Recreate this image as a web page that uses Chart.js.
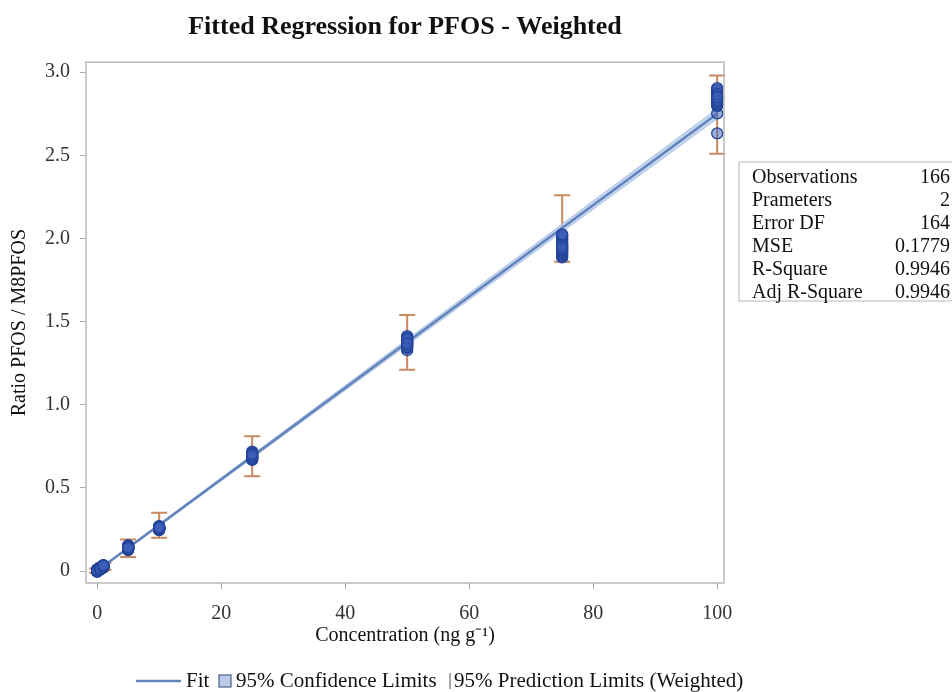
<!DOCTYPE html>
<html>
<head>
<meta charset="utf-8">
<script src="https://cdn.jsdelivr.net/npm/chart.js@4.4.1/dist/chart.umd.min.js"></script>
<style>
  html, body { margin: 0; padding: 0; background: #fff; }
  #wrap { width: 952px; height: 692px; }
</style>
</head>
<body>
<div id="wrap"><canvas id="myChart" width="952" height="692"></canvas></div>
<script>
// concentration levels (ng/g)
var levels = [0, 0.5, 1, 5, 10, 25, 50, 75, 100];

// observed ratio PFOS / M8PFOS at each level
var obs0 = [0.000, 0.004, -0.003, 0.008, 0.002, 0.006, -0.001, 0.010, 0.003, 0.005, 0.001, 0.007, -0.004, 0.009, 0.002, 0.006, 0.000, 0.004];
var obs05 = [0.012, 0.016, 0.010, 0.019, 0.014, 0.018, 0.011, 0.015, 0.020, 0.013, 0.017, 0.009, 0.016, 0.012, 0.021, 0.014, 0.018, 0.011];
var obs1 = [0.024, 0.028, 0.022, 0.031, 0.026, 0.030, 0.025, 0.033, 0.027, 0.021, 0.029, 0.035, 0.023, 0.032, 0.026, 0.030, 0.028, 0.034];
var obs5 = [0.128, 0.135, 0.141, 0.146, 0.150, 0.138, 0.132, 0.144, 0.152, 0.126, 0.139, 0.148, 0.155, 0.136, 0.143, 0.131, 0.147, 0.140];
var obs10 = [0.248, 0.255, 0.262, 0.251, 0.268, 0.258, 0.246, 0.264, 0.253, 0.260, 0.270, 0.257, 0.250, 0.266, 0.259, 0.254, 0.263, 0.261];
var obs25 = [0.668, 0.675, 0.683, 0.690, 0.697, 0.704, 0.712, 0.718, 0.686, 0.679, 0.700, 0.693, 0.708, 0.672, 0.681, 0.695, 0.688, 0.702];
var obs50 = [1.328, 1.340, 1.352, 1.361, 1.370, 1.378, 1.386, 1.395, 1.404, 1.413, 1.365, 1.382, 1.357, 1.374, 1.390, 1.346, 1.399, 1.368];
var obs75 = [1.886, 1.895, 1.903, 1.912, 1.920, 1.928, 1.937, 1.945, 1.953, 1.962, 1.970, 1.978, 1.987, 1.995, 2.003, 2.012, 2.020, 2.025, 1.958, 1.941];
var obs100 = [2.632, 2.752, 2.796, 2.805, 2.813, 2.822, 2.830, 2.838, 2.846, 2.855, 2.863, 2.871, 2.880, 2.888, 2.896, 2.904, 2.842, 2.826, 2.868, 2.851];
var observations = [obs0, obs05, obs1, obs5, obs10, obs25, obs50, obs75, obs100];

// 95% prediction limits (weighted) at each level
var predLower = [-0.010, 0.000, 0.006, 0.085, 0.200, 0.570, 1.210, 1.860, 2.510];
var predUpper = [0.015, 0.030, 0.048, 0.190, 0.350, 0.810, 1.540, 2.260, 2.980];

// fitted line and 95% confidence limits
var fitX = [0, 100];
var fitY = [0.002, 2.750];
var ciLower = [-0.002, 2.720];
var ciUpper = [0.006, 2.780];

var xTicks = [0, 20, 40, 60, 80, 100];
var yTicks = [0, 0.5, 1.0, 1.5, 2.0, 2.5, 3.0];

// fit statistics table
var statNames = ['Observations', 'Prameters', 'Error DF', 'MSE', 'R-Square', 'Adj R-Square'];
var statValues = ['166', '2', '164', '0.1779', '0.9946', '0.9946'];

var serif = '"Liberation Serif", "Times New Roman", serif';

// build point lists from the arrays
var points = [];
levels.forEach(function (lv, i) {
  observations[i].forEach(function (v) { points.push({ x: lv, y: v }); });
});
function xy(xs, ys) { return xs.map(function (v, i) { return { x: v, y: ys[i] }; }); }

// prediction limit error bars, drawn under the datasets
var errorBars = {
  id: 'errorBars',
  beforeDatasetsDraw: function (chart) {
    var c = chart.ctx, sx = chart.scales.x, sy = chart.scales.y;
    c.save();
    c.strokeStyle = '#c98a5e';
    c.lineWidth = 2;
    levels.forEach(function (lv, i) {
      var px = sx.getPixelForValue(lv);
      var top = sy.getPixelForValue(predUpper[i]);
      var bot = sy.getPixelForValue(predLower[i]);
      c.beginPath();
      c.moveTo(px, top); c.lineTo(px, bot);
      c.moveTo(px - 8, top); c.lineTo(px + 8, top);
      c.moveTo(px - 8, bot); c.lineTo(px + 8, bot);
      c.stroke();
    });
    c.restore();
  }
};

// frame, stats box and legend
var extras = {
  id: 'extras',
  afterDraw: function (chart) {
    var c = chart.ctx, a = chart.chartArea;
    c.save();
    c.strokeStyle = '#b9b9b9';
    c.lineWidth = 1.5;
    c.strokeRect(a.left, a.top, a.right - a.left, a.bottom - a.top);

    // stats box
    c.strokeStyle = '#c4c4c4';
    c.lineWidth = 1.2;
    c.strokeRect(739, 162, 230, 139);
    c.font = '20px ' + serif;
    c.fillStyle = '#111';
    c.textBaseline = 'middle';
    statNames.forEach(function (n, i) {
      var yy = 178 + i * 23;
      c.textAlign = 'left';
      c.fillText(n, 752, yy);
      c.textAlign = 'right';
      c.fillText(statValues[i], 950, yy);
    });

    // legend
    var ly = 681;
    c.font = '21px ' + serif;
    c.strokeStyle = '#6383bb';
    c.lineWidth = 2.5;
    c.beginPath(); c.moveTo(136, ly); c.lineTo(181, ly); c.stroke();
    c.textAlign = 'left';
    c.fillStyle = '#111';
    c.fillText('Fit', 186, ly);
    c.fillStyle = '#b9cbe6';
    c.fillRect(219, ly - 6, 12, 12);
    c.strokeStyle = '#4d5f86';
    c.lineWidth = 1.2;
    c.strokeRect(219, ly - 6, 12, 12);
    c.fillStyle = '#111';
    c.fillText('95% Confidence Limits', 236, ly);
    c.strokeStyle = '#555';
    c.lineWidth = 1;
    c.beginPath(); c.moveTo(450, ly - 8); c.lineTo(450, ly + 8); c.stroke();
    c.fillText('95% Prediction Limits (Weighted)', 454, ly);
    c.restore();
  }
};

new Chart(document.getElementById('myChart'), {
  type: 'scatter',
  data: {
    datasets: [
      {
        label: 'Observed',
        data: points,
        pointRadius: 5.5,
        pointBackgroundColor: 'rgba(60,95,185,0.5)',
        pointBorderColor: '#24449a',
        pointBorderWidth: 1.3,
        order: 1
      },
      {
        type: 'line',
        label: 'Fit',
        data: xy(fitX, fitY),
        borderColor: '#6383bb',
        borderWidth: 2.5,
        pointRadius: 0,
        order: 2
      },
      {
        type: 'line',
        label: '95% Confidence Limits',
        data: xy(fitX, ciUpper),
        borderColor: 'rgba(160,185,225,0.9)',
        borderWidth: 1,
        backgroundColor: 'rgba(178,200,233,0.75)',
        fill: '+1',
        pointRadius: 0,
        order: 3
      },
      {
        type: 'line',
        label: 'CI lower',
        data: xy(fitX, ciLower),
        borderColor: 'rgba(160,185,225,0.9)',
        borderWidth: 1,
        pointRadius: 0,
        order: 4
      }
    ]
  },
  options: {
    responsive: false,
    animation: false,
    layout: { padding: { left: 4, right: 228, top: 0, bottom: 33 } },
    plugins: {
      legend: { display: false },
      tooltip: { enabled: false },
      title: {
        display: true,
        text: 'Fitted Regression for PFOS - Weighted',
        fullSize: false,
        color: '#111',
        font: { family: serif, size: 26, weight: 'bold', lineHeight: 1.2 },
        padding: { top: 12, bottom: 19 }
      }
    },
    scales: {
      x: {
        type: 'linear',
        min: -1.8,
        max: 101.1,
        afterBuildTicks: function (s) { s.ticks = xTicks.map(function (v) { return { value: v }; }); },
        grid: { drawOnChartArea: false, drawTicks: true, tickLength: 6, color: '#a8a8a8' },
        border: { display: false },
        ticks: { color: '#333', padding: 15, maxRotation: 0, font: { family: serif, size: 20, lineHeight: 1.0 } },
        title: {
          display: true,
          text: 'Concentration (ng g\u207B\u00B9)',
          color: '#111',
          padding: { top: -13, bottom: 13 },
          font: { family: serif, size: 20, lineHeight: 1.0 }
        }
      },
      y: {
        type: 'linear',
        min: -0.072,
        max: 3.06,
        afterBuildTicks: function (s) { s.ticks = yTicks.map(function (v) { return { value: v }; }); },
        grid: { drawOnChartArea: false, drawTicks: true, tickLength: 6, color: '#a8a8a8' },
        border: { display: false },
        ticks: {
          color: '#333',
          padding: 10,
          font: { family: serif, size: 20, lineHeight: 1.0 },
          callback: function (v) { return v === 0 ? '0' : v.toFixed(1); }
        },
        title: {
          display: true,
          text: 'Ratio PFOS / M8PFOS',
          color: '#111',
          padding: { top: 4, bottom: 3 },
          font: { family: serif, size: 20, lineHeight: 1.2 }
        }
      }
    }
  },
  plugins: [errorBars, extras]
});
</script>
</body>
</html>
